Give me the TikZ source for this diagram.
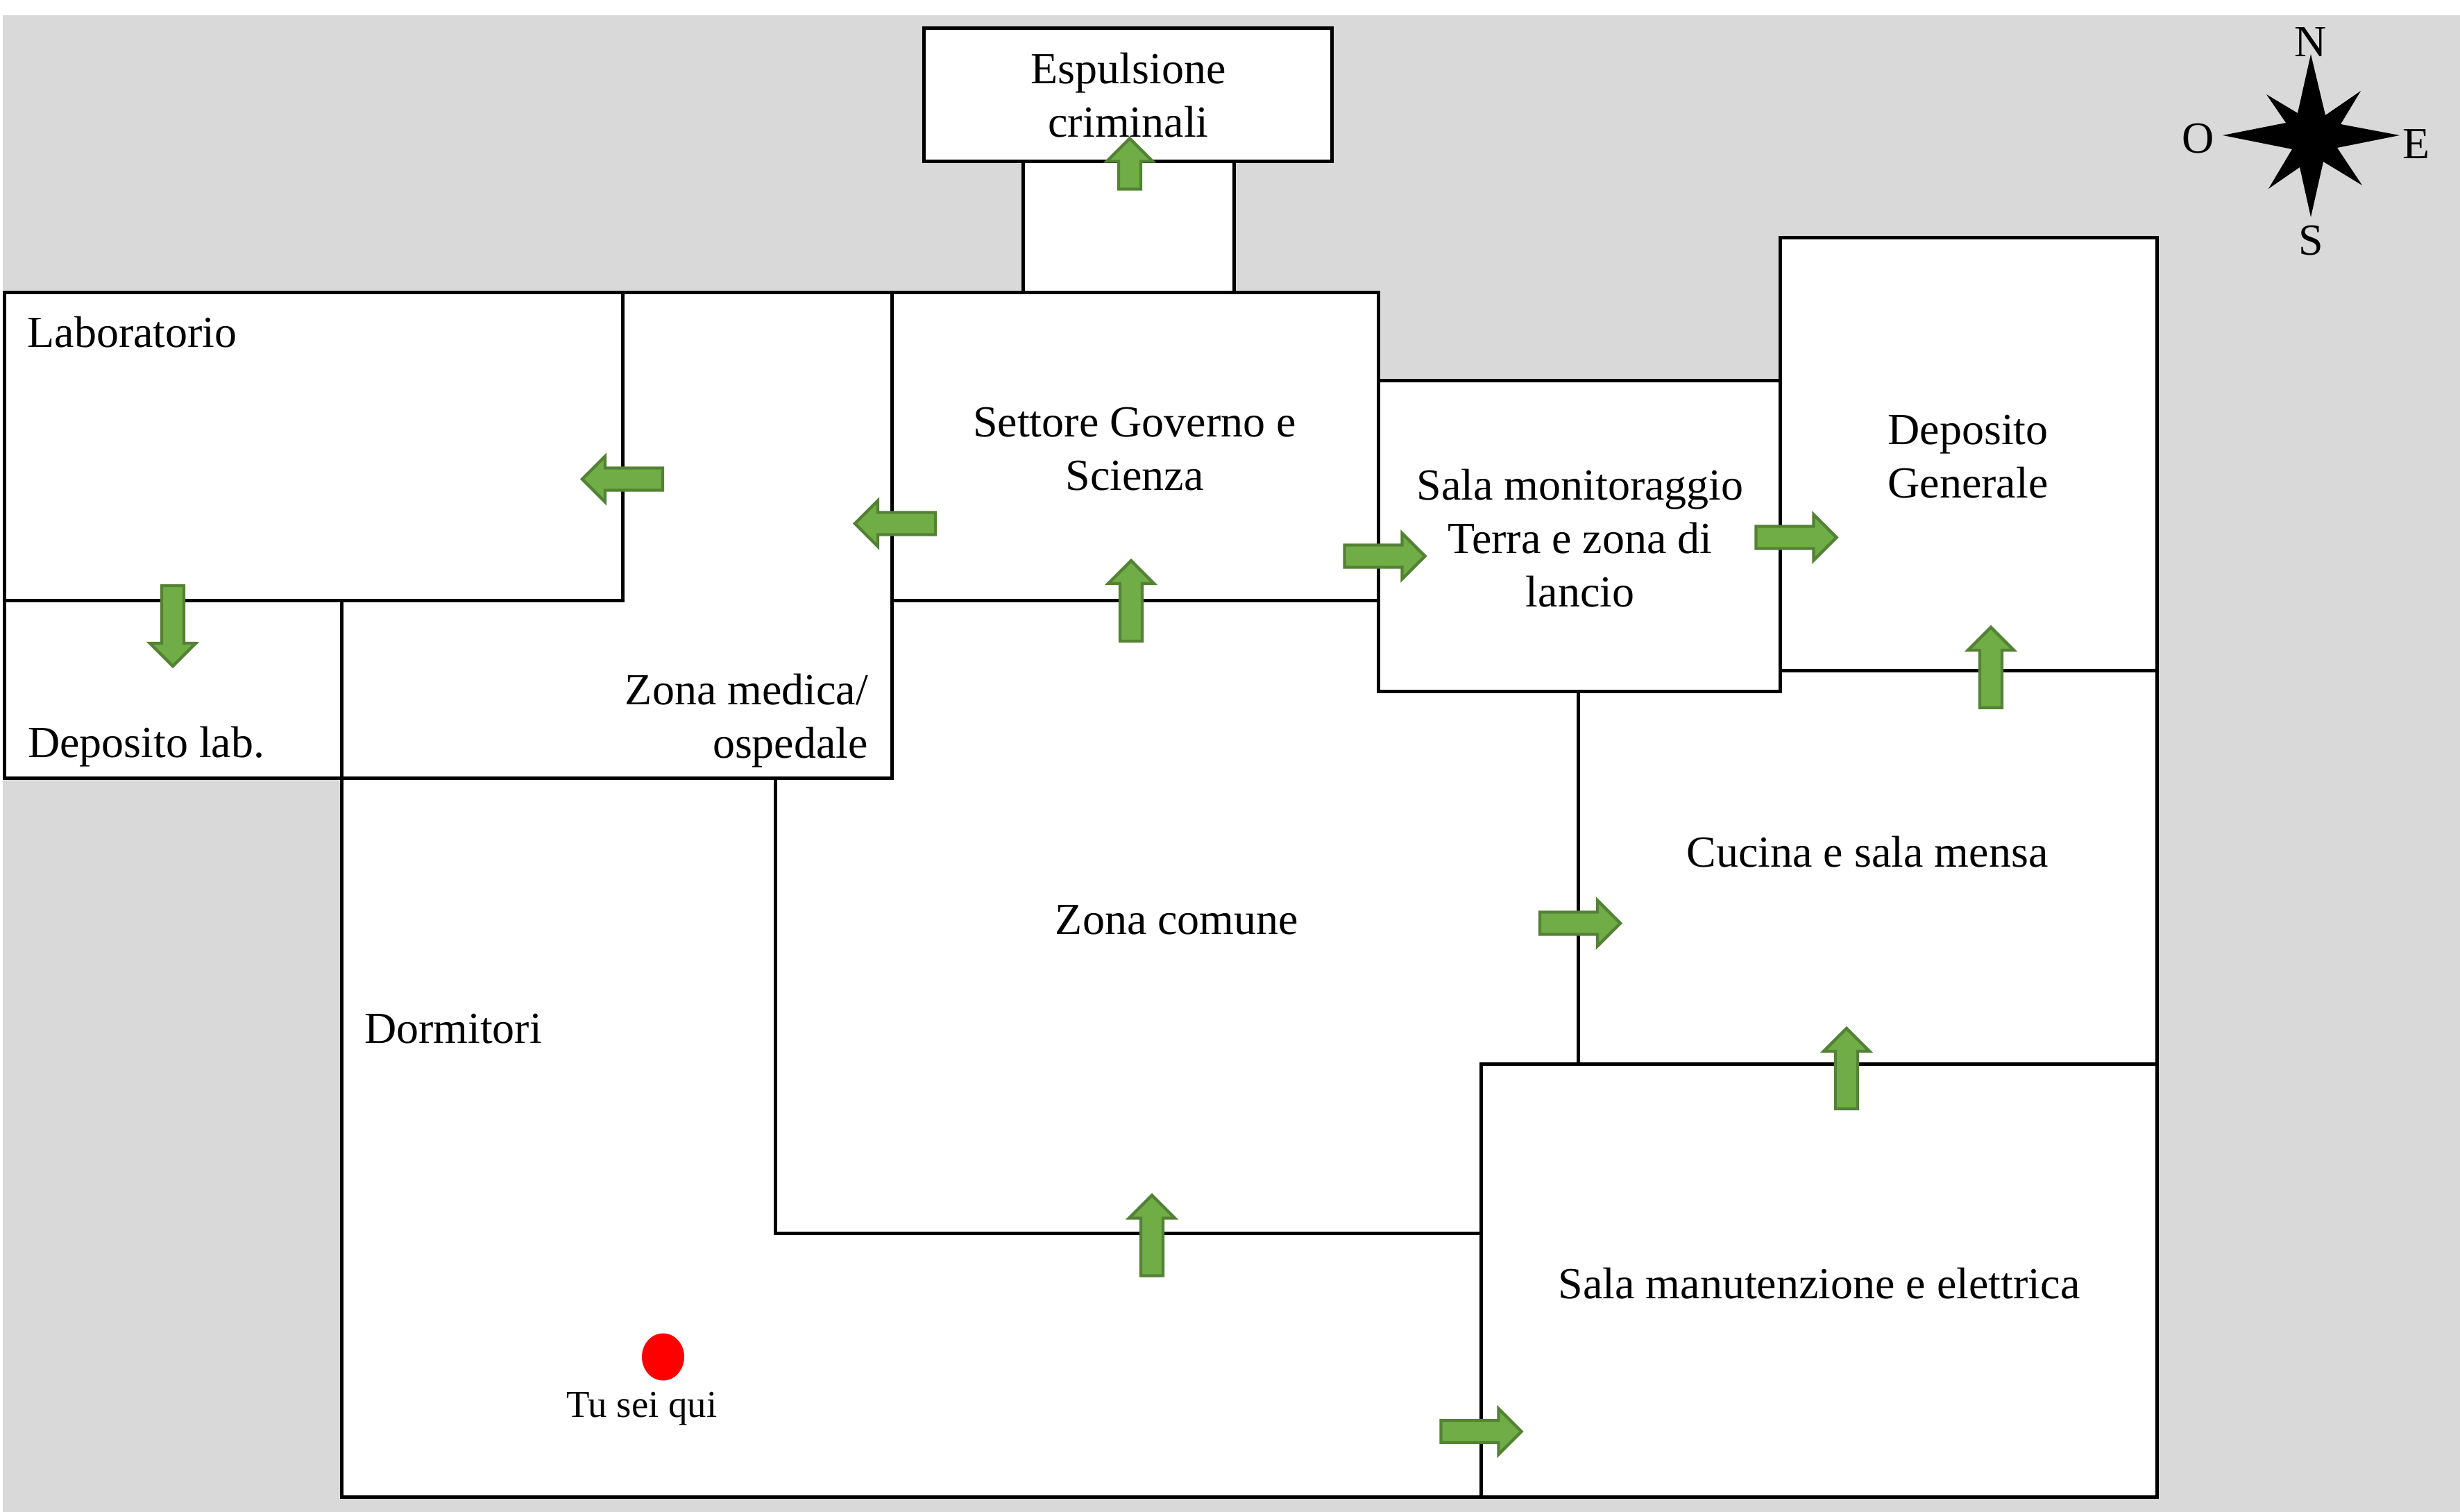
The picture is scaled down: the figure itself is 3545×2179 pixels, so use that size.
\documentclass[tikz,border=0pt]{standalone}
\usepackage{fontspec}
\setmainfont{Liberation Serif}
\definecolor{bggrey}{HTML}{D9D9D9}
\definecolor{arrowfill}{HTML}{70AD47}
\definecolor{arrowline}{HTML}{548235}
\tikzset{
  room/.style={draw=black,fill=white,line width=2.5pt,line join=miter},
  doorarrow/.style={draw=arrowline,fill=arrowfill,line width=2.2pt,line join=miter},
  lbl/.style={font=\fontsize{32}{38.5}\selectfont,inner sep=0pt,outer sep=0pt},
  lblc/.style={lbl,align=center,anchor=base},
  lbll/.style={lbl,anchor=base west},
  lblr/.style={lbl,align=right,anchor=base east},
}
\newcommand\greenarrow[4]{%
  \draw[doorarrow,shift={(#1,#2)},rotate=#3]
    ({-#4/2},-16) -- ({#4/2-33},-16) -- ({#4/2-33},-33) -- ({#4/2},0)
    -- ({#4/2-33},33) -- ({#4/2-33},16) -- ({-#4/2},16) -- cycle;}
\begin{document}
\begin{tikzpicture}[x=0.5pt,y=-0.5pt]
\useasboundingbox (0,0) rectangle (3545,2179);
\fill[bggrey] (4,22) rectangle (3545,2179);
% rooms
\path[room] (1331.5,40.5) rectangle (1919.5,232);
\path[room] (1474.5,232) rectangle (1778.5,421);
\path[room] (492.3,1121.3) rectangle (3108.3,2157.3);
\path[room] (2274.3,966.3) rectangle (3108.3,1533.3);
\path[room] (1117.3,865.3) -- (2274.3,865.3) -- (2274.3,1533.3) -- (2134.3,1533.3) -- (2134.3,1777.3) -- (1117.3,1777.3) -- cycle;
\path[room] (2134.3,1533.3) rectangle (3108.3,2157.3);
\path[room] (6,421) rectangle (1285.7,1121.3);
\path[room] (6,421) rectangle (897.3,865.3);
\path[room] (6,865.3) rectangle (492.3,1121.3);
\path[room] (1285.7,421) rectangle (1986.5,865.3);
\path[room] (2565.3,342) rectangle (3108.3,966.3);
\path[room] (1986.5,548) rectangle (2565.3,996.3);
% labels
\node[lblc] (espulsione) at (1626,197) {Espulsione\\criminali};
\node[lbll] (laboratorio) at (39.5,500) {Laboratorio};
\node[lbll] (depositolab) at (40,1091) {Deposito lab.};
\node[lblr] (zonamedica) at (1251,1092) {Zona medica/\\ospedale};
\node[lblc] (settore) at (1635,706.5) {Settore Governo e\\Scienza};
\node[lblc] (monitoraggio) at (2277,874) {Sala monitoraggio\\Terra e zona di\\lancio};
\node[lblc] (depositogen) at (2836,717) {Deposito\\Generale};
\node[lblc] (cucina) at (2691,1249) {Cucina e sala mensa};
\node[lblc] (comune) at (1696,1346) {Zona comune};
\node[lbll] (dormitori) at (525,1503) {Dormitori};
\node[lblc] (manutenzione) at (2621.5,1871) {Sala manutenzione e elettrica};
\node[lbl,anchor=base,font=\fontsize{27.4}{32}\selectfont] (tusei) at (925,2042) {Tu sei qui};
\fill[red] (955.5,1955.5) ellipse [x radius=30.5,y radius=34];
% door arrows
\greenarrow{1628}{236}{90}{73}
\greenarrow{897}{690.5}{180}{116}
\greenarrow{1290}{754.5}{180}{116}
\greenarrow{1630}{866}{90}{116}
\greenarrow{1995.5}{801.5}{0}{116}
\greenarrow{2588.5}{774.5}{0}{116}
\greenarrow{2869}{962}{90}{116}
\greenarrow{2277}{1330.5}{0}{116}
\greenarrow{2661}{1540}{90}{116}
\greenarrow{1660}{1780.5}{90}{116}
\greenarrow{2134.5}{2063}{0}{116}
\greenarrow{249}{902}{-90}{116}
% compass
\fill[black] (3330,78) -- (3351,166) -- (3402,131) -- (3373,179) -- (3458,195) -- (3368,213)
  -- (3404,267) -- (3348,233) -- (3330,313) -- (3314,241) -- (3269,272) -- (3303,215)
  -- (3203,195) -- (3294,177) -- (3266,136) -- (3311,163) -- cycle;
\node[lbl,anchor=base] (north) at (3329.5,81) {N};
\node[lbl,anchor=base] (west) at (3168,220) {O};
\node[lbl,anchor=base] (east) at (3482,228) {E};
\node[lbl,anchor=base] (south) at (3330.5,367) {S};
\end{tikzpicture}
\end{document}
